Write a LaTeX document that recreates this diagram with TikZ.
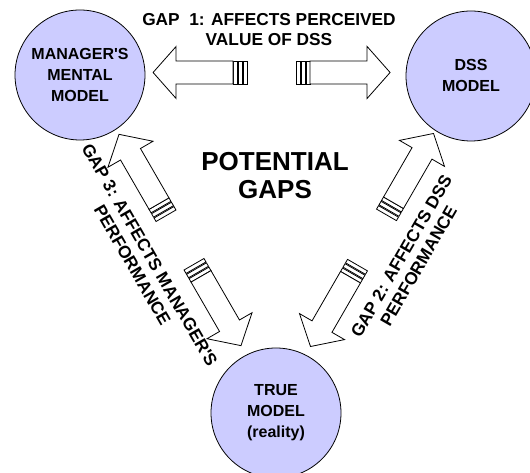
\documentclass[tikz,border=0pt]{standalone}
\usepackage{fontspec}
\setmainfont{Liberation Sans}
\usetikzlibrary{calc}
\definecolor{modelblue}{RGB}{204, 204, 255}

\begin{document}
\begin{tikzpicture}[
    x=1pt, y=1pt,
    model/.style={circle, draw=black, line width=0.8pt, fill=modelblue, minimum size=130pt,
                  inner sep=0pt, align=center, font=\fontsize{16}{21}\selectfont\bfseries},
    gaplabel/.style={align=center, font=\fontsize{17.3}{20}\selectfont\bfseries},
    arrowline/.style={draw=black, line width=0.8pt, fill=white, line join=miter},
    % broken block arrow, starting #1 away from the gap centre
    pics/gaparrow/.style={code={
        \foreach \s in {0,5,10}
            \draw[arrowline] (#1+\s,-11.5) rectangle ++(4,23);
        \draw[arrowline] (#1+14,-11.5) -- (#1+71,-11.5) -- (#1+71,-26) -- (#1+94,0)
            -- (#1+71,26) -- (#1+71,11.5) -- (#1+14,11.5) -- cycle;
    }}
]
    \useasboundingbox (0,0) rectangle (530,473);

    % The three models
    \node[model] (mgr) at (80,398) {MANAGER\textquotesingle S\\MENTAL\\MODEL};
    \node[model] (dss) at (471,397) {DSS\\MODEL};
    \node[model] (truth) at (276,60) {TRUE\\MODEL\\(reality)};

    % Gap centres between the models
    \coordinate (gap1) at ($(mgr)!0.49!(dss)+(0,3)$);
    \coordinate (gap3) at ($(mgr)!0.5!(truth)+(2,4)$);
    \coordinate (gap2) at ($(dss)!0.5!(truth)+(-1.5,4.5)$);

    % Arrows
    \pic[rotate=180] at (gap1) {gaparrow=24.5};
    \pic at (gap1) {gaparrow=24.5};
    \pic[rotate=120] at (gap3) {gaparrow=28};
    \pic[rotate=-60] at (gap3) {gaparrow=28};
    \pic[rotate=60] at (gap2) {gaparrow=29};
    \pic[rotate=-120] at (gap2) {gaparrow=29};

    % Labels
    \node[gaplabel] (gap1text) at (269,443) {GAP~~1: AFFECTS PERCEIVED\\VALUE OF DSS};
    \node[gaplabel, rotate=-60] (gap3text) at (141,213) {GAP 3: AFFECTS MANAGER\textquotesingle S\\PERFORMANCE};
    \node[gaplabel, rotate=60] (gap2text) at (410,212) {GAP 2: AFFECTS DSS\\PERFORMANCE};
    \node[align=center, font=\fontsize{26}{28}\selectfont\bfseries] (potential) at (275,297) {POTENTIAL\\GAPS};
\end{tikzpicture}
\end{document}
